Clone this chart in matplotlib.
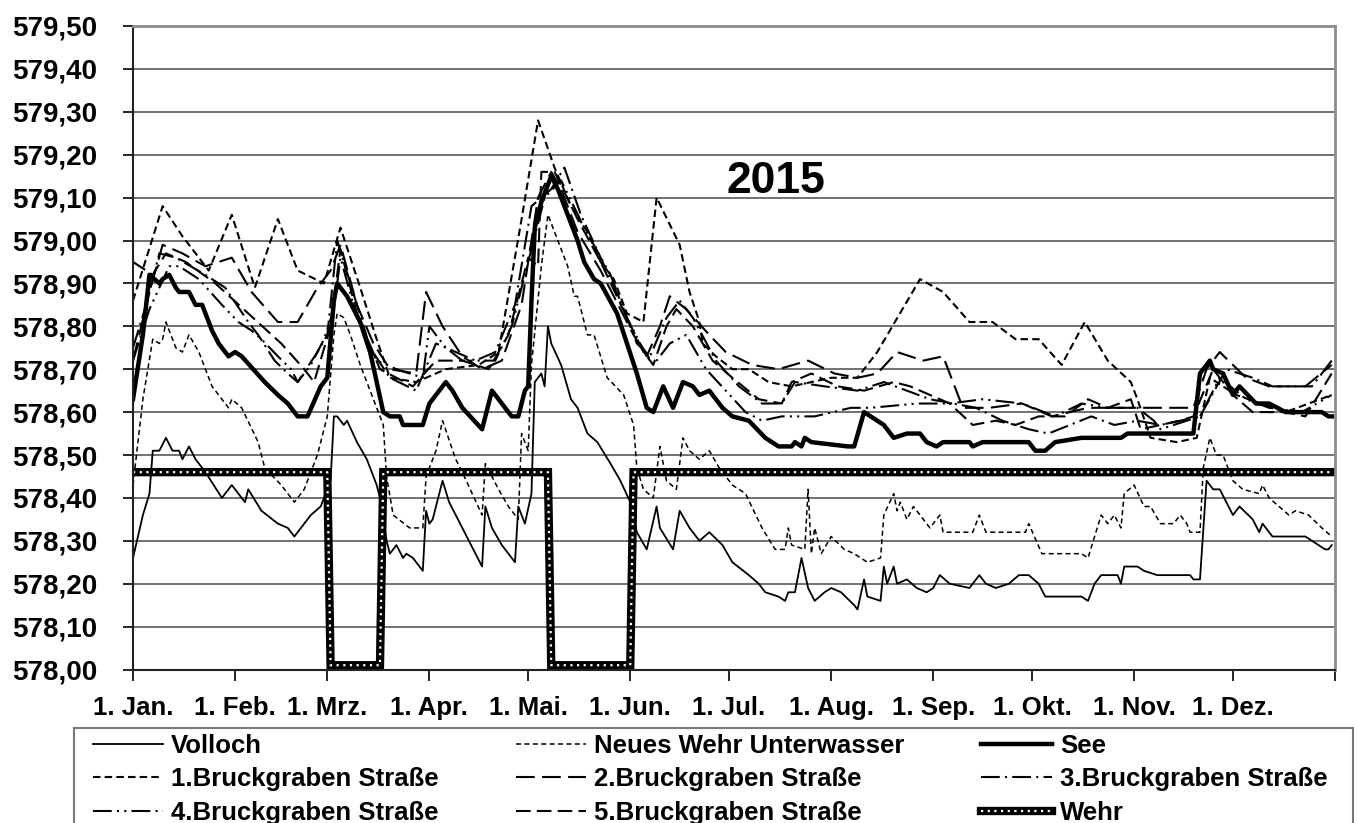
import numpy as np
import matplotlib
matplotlib.use('Agg')
import matplotlib.pyplot as plt
from matplotlib.lines import Line2D
from matplotlib.patches import Rectangle

# day of year 2015 (0 = 1. Jan.), water level in m
volloch = [(0,578.26),(3,578.36),(5,578.41),(6,578.51),(8,578.51),(10,578.54),(12,578.51),(14,578.51),(15,578.49),
           (17,578.52),(19,578.49),(22,578.46),(27,578.40),(30,578.43),(34,578.39),(35,578.42),(39,578.37),(44,578.34),
           (47,578.33),(49,578.31),(51,578.33),(54,578.36),(57,578.38),(59,578.42),(60,578.44),(61,578.59),(62,578.59),
           (64,578.57),(65,578.58),(68,578.53),(71,578.49),(74,578.43),(75,578.40),(77,578.30),(78,578.27),(80,578.29),
           (82,578.26),(83,578.27),(85,578.26),(88,578.23),(89,578.37),(90,578.34),(91,578.35),(94,578.44),(96,578.39),
           (100,578.33),(106,578.24),(107,578.38),(109,578.33),(112,578.29),(116,578.25),(117,578.38),(119,578.34),
           (121,578.41),(122,578.67),(124,578.69),(125,578.66),(126,578.80),(127,578.76),(130,578.71),(133,578.63),
           (135,578.61),(138,578.55),(141,578.53),(145,578.48),(148,578.44),(151,578.39),(153,578.32),(156,578.28),
           (159,578.38),(160,578.33),(164,578.28),(166,578.37),(169,578.33),(172,578.30),(175,578.32),(179,578.29),
           (182,578.25),(187,578.22),(190,578.20),(192,578.18),(196,578.17),(198,578.16),(199,578.18),(201,578.18),
           (203,578.26),(205,578.19),(207,578.16),(210,578.18),(212,578.19),(215,578.18),(219,578.15),(220,578.14),
           (222,578.21),(223,578.17),(227,578.16),(228,578.24),(229,578.20),(231,578.24),(232,578.20),(235,578.21),
           (238,578.19),(241,578.18),(243,578.19),(245,578.22),(248,578.20),(254,578.19),(257,578.22),(259,578.20),
           (262,578.19),(266,578.20),(269,578.22),(272,578.22),(275,578.20),(277,578.17),(288,578.17),(290,578.16),
           (292,578.20),(294,578.22),(299,578.22),(300,578.20),(301,578.24),(305,578.24),(307,578.23),(311,578.22),
           (321,578.22),(322,578.21),(324,578.21),(326,578.44),(328,578.42),(330,578.42),(334,578.36),(336,578.38),
           (340,578.35),(342,578.32),(343,578.34),(346,578.31),(356,578.31),(358,578.30),(362,578.28),(363,578.28),
           (364,578.29)]

neues_wehr_uw = [(0,578.43),(3,578.63),(6,578.77),(8,578.76),(9,578.77),(10,578.81),(13,578.75),(15,578.74),(17,578.78),
                 (20,578.74),(24,578.66),(29,578.61),(30,578.63),(33,578.61),(38,578.53),(40,578.47),(45,578.43),
                 (49,578.39),(52,578.42),(56,578.50),(59,578.59),(61,578.78),(62,578.83),(64,578.82),(66,578.78),
                 (69,578.71),(74,578.61),(76,578.57),(77,578.45),(79,578.36),(84,578.33),(88,578.33),(89,578.45),
                 (92,578.51),(94,578.58),(98,578.49),(100,578.46),(106,578.36),(107,578.48),(111,578.42),(114,578.38),
                 (117,578.35),(118,578.55),(120,578.51),(121,578.71),(124,578.94),(126,579.06),(128,579.02),(132,578.94),
                 (134,578.87),(135,578.87),(138,578.78),(140,578.78),(144,578.68),(149,578.64),(152,578.57),(153,578.47),
                 (155,578.42),(158,578.40),(160,578.52),(162,578.44),(165,578.42),(167,578.54),(169,578.51),(172,578.49),
                 (175,578.51),(178,578.47),(182,578.43),(186,578.41),(191,578.33),(195,578.28),(198,578.28),(199,578.33),
                 (200,578.29),(204,578.28),(205,578.42),(206,578.27),(207,578.33),(209,578.27),(212,578.31),(216,578.28),
                 (219,578.27),(223,578.25),(227,578.26),(228,578.36),(231,578.41),(232,578.37),(233,578.39),(235,578.35),
                 (237,578.38),(239,578.36),(242,578.33),(245,578.36),(246,578.32),(248,578.32),(255,578.32),(257,578.36),
                 (259,578.32),(271,578.32),(272,578.34),(276,578.27),(288,578.27),(290,578.26),(294,578.36),(296,578.34),
                 (298,578.36),(300,578.33),(301,578.41),(304,578.43),(307,578.38),(309,578.38),(312,578.34),(316,578.34),
                 (318,578.36),(320,578.34),(321,578.32),(324,578.32),(325,578.47),(327,578.54),(329,578.50),(331,578.50),
                 (334,578.44),(337,578.42),(342,578.41),(343,578.43),(345,578.40),(351,578.36),(353,578.37),(357,578.36),
                 (361,578.33),(364,578.31)]

see = [(0,578.63),(3,578.78),(5,578.92),(8,578.90),(9,578.91),(11,578.92),(13,578.89),(14,578.88),(17,578.88),(19,578.85),
       (21,578.85),(24,578.79),(26,578.76),(29,578.73),(31,578.74),(33,578.73),(40,578.67),(44,578.64),(47,578.62),
       (50,578.59),(53,578.59),(57,578.66),(59,578.68),(61,578.86),(62,578.90),(65,578.87),(69,578.81),(72,578.74),
       (76,578.60),(78,578.59),(81,578.59),(82,578.57),(88,578.57),(90,578.62),(95,578.67),(97,578.65),(100,578.61),
       (106,578.56),(109,578.65),(112,578.62),(115,578.59),(117,578.59),(119,578.65),(120,578.66),(121,578.86),
       (122,579.03),(124,579.09),(127,579.15),(129,579.12),(133,579.04),(135,579.00),(137,578.95),(140,578.91),
       (142,578.90),(147,578.83),(150,578.76),(153,578.69),(156,578.61),(158,578.60),(161,578.66),(164,578.61),
       (167,578.67),(170,578.66),(172,578.64),(175,578.65),(179,578.61),(182,578.59),(187,578.58),(192,578.54),
       (196,578.52),(200,578.52),(201,578.53),(203,578.52),(204,578.54),(206,578.53),(217,578.52),(219,578.52),
       (222,578.60),(228,578.57),(231,578.54),(235,578.55),(239,578.55),(241,578.53),(244,578.52),(246,578.53),
       (254,578.53),(255,578.52),(258,578.53),(272,578.53),(274,578.51),(277,578.51),(280,578.53),(288,578.54),
       (295,578.54),(300,578.54),(302,578.55),(322,578.55),(324,578.69),(327,578.72),(328,578.70),(331,578.69),
       (334,578.64),(336,578.66),(341,578.62),(345,578.62),(350,578.60),(355,578.60),(361,578.60),(363,578.59),
       (364,578.59)]

bruck1 = [(0,578.86),(9,579.08),(15,579.01),(23,578.93),(30,579.06),(37,578.89),(44,579.05),(50,578.93),(58,578.90),
          (63,579.03),(69,578.89),(74,578.77),(78,578.68),(86,578.67),(95,578.70),(105,578.71),(111,578.74),(118,579.05),
          (123,579.28),(128,579.17),(133,579.08),(138,579.02),(142,578.95),(146,578.91),(150,578.83),(155,578.81),
          (159,579.10),(166,578.99),(169,578.88),(172,578.81),(173,578.76),(177,578.73),(182,578.70),(187,578.70),
          (193,578.67),(200,578.66),(212,578.68),(220,578.68),(226,578.74),(239,578.91),(246,578.88),(254,578.81),
          (261,578.81),(268,578.77),(275,578.77),(282,578.71),(289,578.81),(296,578.72),(303,578.67),(305,578.63),
          (309,578.54),(317,578.53),(323,578.54),(327,578.68),(335,578.64),(350,578.60),(364,578.64)]

bruck2 = [(0,578.72),(5,578.88),(9,578.99),(15,578.97),(22,578.94),(30,578.96),(33,578.92),(36,578.88),(44,578.81),
          (50,578.81),(56,578.89),(60,578.93),(63,578.99),(68,578.85),(73,578.76),(78,578.70),(86,578.69),(89,578.88),
          (94,578.80),(100,578.73),(106,578.70),(112,578.72),(118,578.85),(123,579.10),(127,579.16),(130,579.12),
          (135,579.02),(142,578.93),(148,578.84),(152,578.78),(156,578.73),(160,578.80),(163,578.87),(168,578.84),
          (175,578.78),(180,578.74),(188,578.71),(196,578.70),(205,578.72),(213,578.69),(220,578.68),(226,578.69),
          (232,578.74),(240,578.72),(246,578.73),(252,578.61),(260,578.61),(270,578.62),(279,578.59),(290,578.61),
          (305,578.61),(322,578.61),(326,578.70),(330,578.74),(338,578.68),(345,578.66),(356,578.66),(364,578.71)]

bruck3 = [(0,578.75),(4,578.85),(8,578.97),(13,578.96),(22,578.92),(28,578.89),(35,578.81),(38,578.78),(43,578.72),
          (47,578.69),(50,578.67),(56,578.74),(59,578.78),(62,579.00),(66,578.90),(72,578.75),(78,578.68),(86,578.65),
          (92,578.76),(98,578.74),(104,578.72),(110,578.74),(116,578.85),(121,579.08),(127,579.12),(131,579.17),
          (136,579.06),(142,578.96),(148,578.86),(153,578.76),(157,578.73),(162,578.82),(166,578.86),(170,578.82),
          (177,578.72),(184,578.66),(191,578.62),(197,578.62),(201,578.67),(210,578.66),(220,578.65),(228,578.67),
          (235,578.65),(242,578.63),(249,578.62),(256,578.61),(264,578.58),(272,578.56),(278,578.55),(291,578.59),
          (298,578.57),(305,578.58),(312,578.57),(324,578.59),(332,578.70),(340,578.68),(346,578.66),(358,578.66),
          (364,578.72)]

bruck4 = [(0,578.72),(5,578.84),(11,578.94),(14,578.94),(20,578.91),(27,578.85),(32,578.81),(36,578.79),(39,578.77),
          (44,578.73),(48,578.70),(50,578.67),(54,578.71),(58,578.77),(61,578.84),(63,578.96),(68,578.82),(74,578.72),
          (80,578.70),(88,578.68),(90,578.80),(95,578.75),(100,578.72),(110,578.72),(115,578.80),(120,578.95),
          (125,579.10),(130,579.14),(137,579.03),(145,578.92),(150,578.82),(154,578.76),(158,578.71),(163,578.76),
          (168,578.78),(174,578.70),(180,578.65),(186,578.60),(191,578.58),(197,578.59),(207,578.59),(218,578.61),
          (224,578.61),(238,578.62),(248,578.62),(258,578.63),(270,578.62),(280,578.59),(288,578.62),(296,578.61),
          (305,578.61),(310,578.58),(312,578.56),(316,578.57),(324,578.59),(330,578.68),(338,578.63),(345,578.61),
          (355,578.60),(364,578.64)]

bruck5 = [(0,578.95),(6,578.92),(10,578.97),(16,578.95),(25,578.90),(35,578.83),(45,578.76),(52,578.70),(55,578.67),
          (60,578.80),(63,578.98),(68,578.83),(75,578.70),(85,578.66),(92,578.72),(100,578.72),(108,578.70),(114,578.78),
          (120,578.96),(123,578.94),(124,579.16),(128,579.16),(135,579.05),(142,578.95),(150,578.82),(155,578.74),
          (158,578.71),(162,578.80),(165,578.84),(170,578.80),(176,578.72),(182,578.68),(190,578.63),(197,578.62),
          (200,578.67),(206,578.69),(214,578.66),(222,578.65),(231,578.67),(236,578.66),(242,578.64),(248,578.62),
          (255,578.57),(262,578.58),(268,578.57),(275,578.59),(283,578.59),(290,578.63),(296,578.61),(303,578.63),
          (306,578.56),(318,578.58),(322,578.59),(328,578.70),(334,578.64),(340,578.60),(350,578.60),(356,578.59),
          (364,578.69)]

wehr = [(0,578.46),(59,578.46),(60,578.01),(75,578.01),(76,578.46),(126,578.46),(127,578.01),(151,578.01),
        (152,578.46),(364,578.46)]

month_start = [0, 31, 59, 90, 120, 151, 181, 212, 243, 273, 304, 334, 365]
month_lbl = ['1. Jan.', '1. Feb.', '1. Mrz.', '1. Apr.', '1. Mai.', '1. Jun.', '1. Jul.', '1. Aug.',
             '1. Sep.', '1. Okt.', '1. Nov.', '1. Dez.', '']
yticks = np.arange(578.0, 579.51, 0.1)

plt.rcParams['font.family'] = ['Liberation Sans', 'DejaVu Sans']
plt.rcParams['font.weight'] = 'bold'

W, H = 1358, 823
fig = plt.figure(figsize=(W/100, H/100), dpi=100)
ax = fig.add_axes([133/W, 1-669.5/H, (1335-133)/W, (669.5-26)/H])


def xy(pts):
    a = np.array(pts)
    return a[:, 0], a[:, 1]


styles = [
    ('Volloch', volloch, dict(color='black', lw=1.3, ls='-')),
    ('Neues Wehr Unterwasser', neues_wehr_uw, dict(color='black', lw=1.1, ls=(0, (3.3, 2.2)))),
    ('See', see, dict(color='black', lw=3.2, ls='-')),
    ('1.Bruckgraben Straße', bruck1, dict(color='black', lw=1.5, ls=(0, (3.6, 2.0)))),
    ('2.Bruckgraben Straße', bruck2, dict(color='black', lw=1.5, ls=(0, (9, 3.5)))),
    ('3.Bruckgraben Straße', bruck3, dict(color='black', lw=1.5, ls=(0, (9, 2.5, 1, 2.5)))),
    ('4.Bruckgraben Straße', bruck4, dict(color='black', lw=1.5, ls=(0, (9, 2.5, 1, 2.5, 1, 2.5)))),
    ('5.Bruckgraben Straße', bruck5, dict(color='black', lw=1.5, ls=(0, (7, 3)))),
]

handles = {}
for name, pts, st in styles:
    x, y = xy(pts)
    ax.plot(x, y, **st)
    handles[name] = Line2D([], [], **st)

# Wehr: thick black line with white dots
x, y = xy(wehr)
ax.plot(x, y, color='black', lw=6, solid_joinstyle='miter')
ax.plot(x, y, color='white', lw=1.6, ls=(0, (1, 2)))
handles['Wehr'] = (Line2D([], [], color='black', lw=6),
                   Line2D([], [], color='white', lw=1.6, ls=(0, (1, 2))))

ax.set_xlim(0, 365)
ax.set_ylim(578.0, 579.5)
ax.set_xticks(month_start)
ax.set_xticklabels(month_lbl, fontsize=18.5, fontweight='bold')
ax.set_yticks(yticks)
ax.set_yticklabels([('%.2f' % v).replace('.', ',') for v in yticks], fontsize=20, fontweight='bold')
ax.tick_params(axis='x', direction='out', length=8, width=1.2, pad=11)
ax.tick_params(axis='y', direction='out', length=7, width=1.2, pad=19)
ax.yaxis.grid(True, color='#4a4a4a', lw=1.1)
ax.set_axisbelow(True)
for s in ['left', 'bottom']:
    ax.spines[s].set_color('#222222')
    ax.spines[s].set_linewidth(1.5)
for s in ['top', 'right']:
    ax.spines[s].set_color('#8c8c8c')
    ax.spines[s].set_linewidth(2)

ax.text(0.535, 0.759, '2015', transform=ax.transAxes, fontsize=32, fontweight='bold',
        ha='center', va='center')

# legend, filled column by column
order = ['Volloch', '1.Bruckgraben Straße', '4.Bruckgraben Straße',
         'Neues Wehr Unterwasser', '2.Bruckgraben Straße', '5.Bruckgraben Straße',
         'See', '3.Bruckgraben Straße', 'Wehr']
fig.legend([handles[k] for k in order], order, ncol=3, loc='upper left',
           bbox_to_anchor=(90/W, 1-731/H), frameon=False, fontsize=18.5,
           handlelength=2.75, handletextpad=0.3, columnspacing=3.0,
           labelspacing=0.38, borderpad=0.1, borderaxespad=0)
fig.patches.append(Rectangle((74/W, -0.05), (1353-74)/W, (823-728)/H + 0.05, transform=fig.transFigure,
                             fill=False, edgecolor='#7a7a7a', lw=1.5))

fig.savefig('out.png', dpi=100)
